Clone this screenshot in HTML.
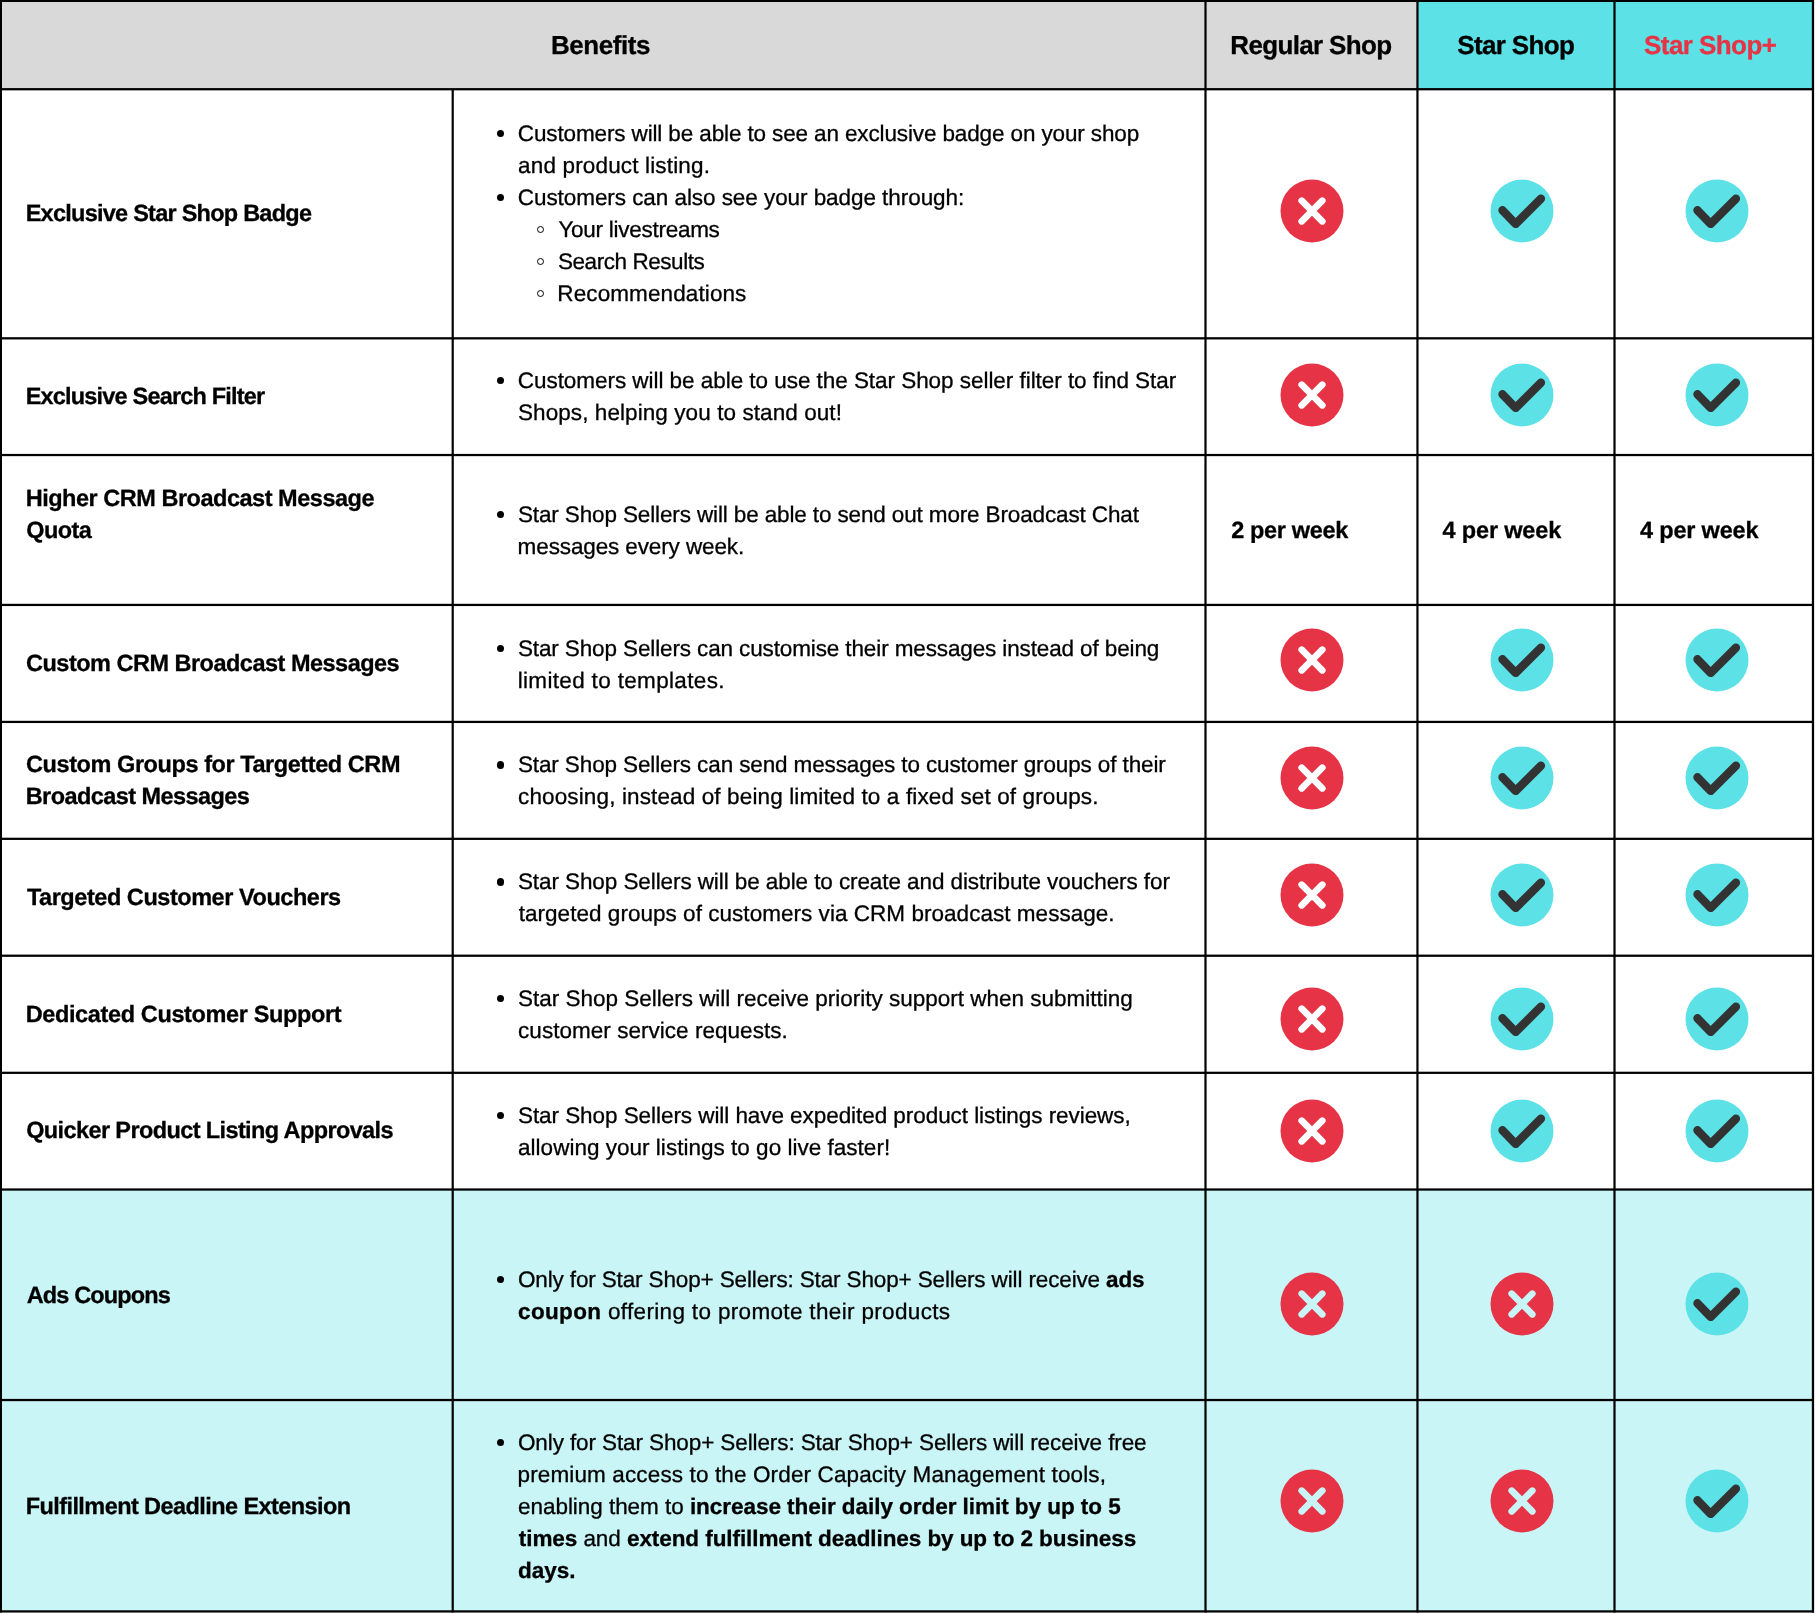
<!DOCTYPE html>
<html lang="en">
<head>
<meta charset="utf-8">
<title>Star Shop Benefits</title>
<style>
html,body{margin:0;padding:0;background:#fff;}
body{width:1815px;height:1613px;position:relative;overflow:hidden;font-family:"Liberation Sans",sans-serif;color:#000;}
.t{position:absolute;white-space:nowrap;line-height:1;font-weight:400;-webkit-text-stroke:0.3px currentColor;}
#tx{position:absolute;left:0;top:0;width:1815px;height:1613px;will-change:transform;text-rendering:geometricPrecision;}
.t b,.t.b{font-weight:700;}
.dot{position:absolute;border-radius:50%;background:#000;width:7.4px;height:7.4px;}
.ring{position:absolute;border-radius:50%;border:1.3px solid #000;width:5.6px;height:5.6px;}
svg.grid{position:absolute;left:0;top:0;}
svg.ic{position:absolute;width:64px;height:64px;overflow:visible;}
</style>
</head>
<body>
<svg class="grid" width="1815" height="1613" viewBox="0 0 1815 1613">
<rect x="0" y="0" width="1417.45" height="89.2" fill="#d9d9d9"/>
<rect x="1417.45" y="0" width="395.55" height="89.2" fill="#5ce1e6"/>
<rect x="0" y="1189.5" width="1813" height="421.90" fill="#c9f5f6"/>
</svg>
<svg class="grid" width="1815" height="1613" viewBox="0 0 1815 1613">
<rect x="0" y="0.00" width="1814.1" height="2.0"/>
<rect x="0" y="88.10" width="1814.1" height="2.25"/>
<rect x="0" y="337.20" width="1814.1" height="2.25"/>
<rect x="0" y="453.90" width="1814.1" height="2.25"/>
<rect x="0" y="603.80" width="1814.1" height="2.25"/>
<rect x="0" y="720.80" width="1814.1" height="2.25"/>
<rect x="0" y="837.70" width="1814.1" height="2.25"/>
<rect x="0" y="954.60" width="1814.1" height="2.25"/>
<rect x="0" y="1071.70" width="1814.1" height="2.25"/>
<rect x="0" y="1188.40" width="1814.1" height="2.25"/>
<rect x="0" y="1398.90" width="1814.1" height="2.25"/>
<rect x="0" y="1610.30" width="1814.1" height="2.25"/>
<rect x="0.00" y="0" width="2.0" height="1612.50"/>
<rect x="451.60" y="89.2" width="2.2" height="1523.30"/>
<rect x="1204.40" y="0" width="2.2" height="1612.50"/>
<rect x="1416.35" y="0" width="2.2" height="1612.50"/>
<rect x="1613.40" y="0" width="2.2" height="1612.50"/>
<rect x="1811.85" y="0" width="2.25" height="1612.50"/>
<rect x="1814" y="0" width="1" height="1613" fill="#e2e2e2"/>
</svg>
<div id="tx">
<div id="h1" class="t b" style="left:550.98px;top:32.00px;font-size:26px;letter-spacing:-0.434px;">Benefits</div>
<div id="h2" class="t b" style="left:1230.33px;top:32.00px;font-size:26px;letter-spacing:-0.661px;">Regular Shop</div>
<div id="h3" class="t b" style="left:1457.25px;top:32.00px;font-size:26px;letter-spacing:-0.660px;">Star Shop</div>
<div id="h4" class="t b" style="left:1644.03px;top:32.00px;font-size:26px;letter-spacing:-0.560px;color:#e63346;">Star Shop+</div>
<div id="a1" class="t b" style="left:25.69px;top:202.00px;font-size:23.5px;letter-spacing:-0.751px;">Exclusive Star Shop Badge</div>
<div id="a2" class="t b" style="left:25.69px;top:385.00px;font-size:23.5px;letter-spacing:-0.808px;">Exclusive Search Filter</div>
<div id="a3a" class="t b" style="left:25.69px;top:487.00px;font-size:23.5px;letter-spacing:-0.478px;">Higher CRM Broadcast Message</div>
<div id="a3b" class="t b" style="left:26.21px;top:519.00px;font-size:23.5px;letter-spacing:-0.547px;">Quota</div>
<div id="a4" class="t b" style="left:26.07px;top:652.00px;font-size:23.5px;letter-spacing:-0.509px;">Custom CRM Broadcast Messages</div>
<div id="a5a" class="t b" style="left:26.07px;top:753.00px;font-size:23.5px;letter-spacing:-0.430px;">Custom Groups for Targetted CRM</div>
<div id="a5b" class="t b" style="left:25.69px;top:785.00px;font-size:23.5px;letter-spacing:-0.564px;">Broadcast Messages</div>
<div id="a6" class="t b" style="left:26.92px;top:886.00px;font-size:23.5px;letter-spacing:-0.453px;">Targeted Customer Vouchers</div>
<div id="a7" class="t b" style="left:25.69px;top:1003.00px;font-size:23.5px;letter-spacing:-0.373px;">Dedicated Customer Support</div>
<div id="a8" class="t b" style="left:26.21px;top:1119.00px;font-size:23.5px;letter-spacing:-0.612px;">Quicker Product Listing Approvals</div>
<div id="a9" class="t b" style="left:26.65px;top:1284.00px;font-size:23.5px;letter-spacing:-0.847px;">Ads Coupons</div>
<div id="a10" class="t b" style="left:25.68px;top:1495.00px;font-size:23.5px;letter-spacing:-0.573px;">Fulfillment Deadline Extension</div>
<div id="b1a" class="t" style="left:517.77px;top:123.00px;font-size:22.5px;letter-spacing:-0.128px;">Customers will be able to see an exclusive badge on your shop</div>
<div id="b1b" class="t" style="left:518.06px;top:155.00px;font-size:22.5px;letter-spacing:0.159px;">and product listing.</div>
<div id="b1c" class="t" style="left:517.77px;top:187.00px;font-size:22.5px;letter-spacing:-0.062px;">Customers can also see your badge through:</div>
<div id="b1d" class="t" style="left:558.41px;top:219.00px;font-size:22.5px;letter-spacing:-0.269px;">Your livestreams</div>
<div id="b1e" class="t" style="left:557.96px;top:251.00px;font-size:22.5px;letter-spacing:-0.439px;">Search Results</div>
<div id="b1f" class="t" style="left:557.32px;top:283.00px;font-size:22.5px;letter-spacing:0.104px;">Recommendations</div>
<div id="b2a" class="t" style="left:517.77px;top:370.00px;font-size:22.5px;letter-spacing:-0.045px;">Customers will be able to use the Star Shop seller filter to find Star</div>
<div id="b2b" class="t" style="left:517.96px;top:402.00px;font-size:22.5px;letter-spacing:0.081px;">Shops, helping you to stand out!</div>
<div id="b3a" class="t" style="left:517.96px;top:504.00px;font-size:22.5px;letter-spacing:-0.132px;">Star Shop Sellers will be able to send out more Broadcast Chat</div>
<div id="b3b" class="t" style="left:517.62px;top:536.00px;font-size:22.5px;letter-spacing:-0.120px;">messages every week.</div>
<div id="b4a" class="t" style="left:517.96px;top:638.00px;font-size:22.5px;letter-spacing:-0.125px;">Star Shop Sellers can customise their messages instead of being</div>
<div id="b4b" class="t" style="left:517.65px;top:670.00px;font-size:22.5px;letter-spacing:0.338px;">limited to templates.</div>
<div id="b5a" class="t" style="left:517.96px;top:754.00px;font-size:22.5px;letter-spacing:-0.121px;">Star Shop Sellers can send messages to customer groups of their</div>
<div id="b5b" class="t" style="left:518.07px;top:786.00px;font-size:22.5px;letter-spacing:0.127px;">choosing, instead of being limited to a fixed set of groups.</div>
<div id="b6a" class="t" style="left:517.96px;top:871.00px;font-size:22.5px;letter-spacing:-0.088px;">Star Shop Sellers will be able to create and distribute vouchers for</div>
<div id="b6b" class="t" style="left:518.71px;top:903.00px;font-size:22.5px;letter-spacing:0.035px;">targeted groups of customers via CRM broadcast message.</div>
<div id="b7a" class="t" style="left:517.96px;top:988.00px;font-size:22.5px;letter-spacing:-0.009px;">Star Shop Sellers will receive priority support when submitting</div>
<div id="b7b" class="t" style="left:518.07px;top:1020.00px;font-size:22.5px;letter-spacing:0.033px;">customer service requests.</div>
<div id="b8a" class="t" style="left:517.96px;top:1105.00px;font-size:22.5px;letter-spacing:-0.061px;">Star Shop Sellers will have expedited product listings reviews,</div>
<div id="b8b" class="t" style="left:518.06px;top:1137.00px;font-size:22.5px;letter-spacing:0.017px;">allowing your listings to go live faster!</div>
<div id="b9a" class="t" style="left:517.95px;top:1269.00px;font-size:22.5px;letter-spacing:-0.137px;">Only for Star Shop+ Sellers: Star Shop+ Sellers will receive <b>ads</b></div>
<div id="b9b" class="t" style="left:518.11px;top:1301.00px;font-size:22.5px;letter-spacing:0.336px;"><b>coupon</b> offering to promote their products</div>
<div id="b10a" class="t" style="left:517.95px;top:1432.00px;font-size:22.5px;letter-spacing:-0.103px;">Only for Star Shop+ Sellers: Star Shop+ Sellers will receive free</div>
<div id="b10b" class="t" style="left:517.53px;top:1464.00px;font-size:22.5px;letter-spacing:0.131px;">premium access to the Order Capacity Management tools,</div>
<div id="b10c" class="t" style="left:518.00px;top:1496.00px;font-size:22.5px;letter-spacing:-0.043px;">enabling them to <b>increase their daily order limit by up to 5</b></div>
<div id="b10d" class="t" style="left:518.83px;top:1528.00px;font-size:22.5px;letter-spacing:-0.072px;"><b>times</b> and <b>extend fulfillment deadlines by up to 2 business</b></div>
<div id="b10e" class="t b" style="left:518.11px;top:1560.00px;font-size:22.5px;letter-spacing:-0.031px;">days.</div>
<div id="q1" class="t b" style="left:1231.14px;top:519.00px;font-size:23.5px;letter-spacing:-0.327px;">2 per week</div>
<div id="q2" class="t b" style="left:1442.57px;top:519.00px;font-size:23.5px;letter-spacing:-0.169px;">4 per week</div>
<div id="q3" class="t b" style="left:1640.12px;top:519.00px;font-size:23.5px;letter-spacing:-0.204px;">4 per week</div>
</div>
<div class="dot" style="left:496.90px;top:129.90px"></div>
<div class="dot" style="left:496.90px;top:193.90px"></div>
<div class="dot" style="left:496.90px;top:377.00px"></div>
<div class="dot" style="left:496.90px;top:510.90px"></div>
<div class="dot" style="left:496.90px;top:644.80px"></div>
<div class="dot" style="left:496.90px;top:761.20px"></div>
<div class="dot" style="left:496.90px;top:878.20px"></div>
<div class="dot" style="left:496.90px;top:995.10px"></div>
<div class="dot" style="left:496.90px;top:1112.00px"></div>
<div class="dot" style="left:496.90px;top:1275.80px"></div>
<div class="dot" style="left:496.90px;top:1439.00px"></div>
<div class="ring" style="left:536.50px;top:225.50px"></div>
<div class="ring" style="left:536.50px;top:257.50px"></div>
<div class="ring" style="left:536.50px;top:289.50px"></div>
<svg class="ic" style="left:1280.00px;top:178.80px" viewBox="-32 -32 64 64"><circle r="31.5" fill="#e63346"/><path d="M-10.3-10.3L10.3 10.3M10.3-10.3L-10.3 10.3" stroke="#fff" stroke-width="6.7" stroke-linecap="round" fill="none"/></svg>
<svg class="ic" style="left:1489.50px;top:178.80px" viewBox="-32 -32 64 64"><circle r="31.5" fill="#5ce1e6"/><path d="M-19.5-0.7L-6.4 12.9L18.9-12.2" stroke="#333" stroke-width="8.4" stroke-linecap="round" stroke-linejoin="round" fill="none"/></svg>
<svg class="ic" style="left:1684.60px;top:178.80px" viewBox="-32 -32 64 64"><circle r="31.5" fill="#5ce1e6"/><path d="M-19.5-0.7L-6.4 12.9L18.9-12.2" stroke="#333" stroke-width="8.4" stroke-linecap="round" stroke-linejoin="round" fill="none"/></svg>
<svg class="ic" style="left:1280.00px;top:363.40px" viewBox="-32 -32 64 64"><circle r="31.5" fill="#e63346"/><path d="M-10.3-10.3L10.3 10.3M10.3-10.3L-10.3 10.3" stroke="#fff" stroke-width="6.7" stroke-linecap="round" fill="none"/></svg>
<svg class="ic" style="left:1489.50px;top:363.40px" viewBox="-32 -32 64 64"><circle r="31.5" fill="#5ce1e6"/><path d="M-19.5-0.7L-6.4 12.9L18.9-12.2" stroke="#333" stroke-width="8.4" stroke-linecap="round" stroke-linejoin="round" fill="none"/></svg>
<svg class="ic" style="left:1684.60px;top:363.40px" viewBox="-32 -32 64 64"><circle r="31.5" fill="#5ce1e6"/><path d="M-19.5-0.7L-6.4 12.9L18.9-12.2" stroke="#333" stroke-width="8.4" stroke-linecap="round" stroke-linejoin="round" fill="none"/></svg>
<svg class="ic" style="left:1280.00px;top:628.30px" viewBox="-32 -32 64 64"><circle r="31.5" fill="#e63346"/><path d="M-10.3-10.3L10.3 10.3M10.3-10.3L-10.3 10.3" stroke="#fff" stroke-width="6.7" stroke-linecap="round" fill="none"/></svg>
<svg class="ic" style="left:1489.50px;top:628.30px" viewBox="-32 -32 64 64"><circle r="31.5" fill="#5ce1e6"/><path d="M-19.5-0.7L-6.4 12.9L18.9-12.2" stroke="#333" stroke-width="8.4" stroke-linecap="round" stroke-linejoin="round" fill="none"/></svg>
<svg class="ic" style="left:1684.60px;top:628.30px" viewBox="-32 -32 64 64"><circle r="31.5" fill="#5ce1e6"/><path d="M-19.5-0.7L-6.4 12.9L18.9-12.2" stroke="#333" stroke-width="8.4" stroke-linecap="round" stroke-linejoin="round" fill="none"/></svg>
<svg class="ic" style="left:1280.00px;top:745.70px" viewBox="-32 -32 64 64"><circle r="31.5" fill="#e63346"/><path d="M-10.3-10.3L10.3 10.3M10.3-10.3L-10.3 10.3" stroke="#fff" stroke-width="6.7" stroke-linecap="round" fill="none"/></svg>
<svg class="ic" style="left:1489.50px;top:745.70px" viewBox="-32 -32 64 64"><circle r="31.5" fill="#5ce1e6"/><path d="M-19.5-0.7L-6.4 12.9L18.9-12.2" stroke="#333" stroke-width="8.4" stroke-linecap="round" stroke-linejoin="round" fill="none"/></svg>
<svg class="ic" style="left:1684.60px;top:745.70px" viewBox="-32 -32 64 64"><circle r="31.5" fill="#5ce1e6"/><path d="M-19.5-0.7L-6.4 12.9L18.9-12.2" stroke="#333" stroke-width="8.4" stroke-linecap="round" stroke-linejoin="round" fill="none"/></svg>
<svg class="ic" style="left:1280.00px;top:863.00px" viewBox="-32 -32 64 64"><circle r="31.5" fill="#e63346"/><path d="M-10.3-10.3L10.3 10.3M10.3-10.3L-10.3 10.3" stroke="#fff" stroke-width="6.7" stroke-linecap="round" fill="none"/></svg>
<svg class="ic" style="left:1489.50px;top:863.00px" viewBox="-32 -32 64 64"><circle r="31.5" fill="#5ce1e6"/><path d="M-19.5-0.7L-6.4 12.9L18.9-12.2" stroke="#333" stroke-width="8.4" stroke-linecap="round" stroke-linejoin="round" fill="none"/></svg>
<svg class="ic" style="left:1684.60px;top:863.00px" viewBox="-32 -32 64 64"><circle r="31.5" fill="#5ce1e6"/><path d="M-19.5-0.7L-6.4 12.9L18.9-12.2" stroke="#333" stroke-width="8.4" stroke-linecap="round" stroke-linejoin="round" fill="none"/></svg>
<svg class="ic" style="left:1280.00px;top:987.15px" viewBox="-32 -32 64 64"><circle r="31.5" fill="#e63346"/><path d="M-10.3-10.3L10.3 10.3M10.3-10.3L-10.3 10.3" stroke="#fff" stroke-width="6.7" stroke-linecap="round" fill="none"/></svg>
<svg class="ic" style="left:1489.50px;top:987.15px" viewBox="-32 -32 64 64"><circle r="31.5" fill="#5ce1e6"/><path d="M-19.5-0.7L-6.4 12.9L18.9-12.2" stroke="#333" stroke-width="8.4" stroke-linecap="round" stroke-linejoin="round" fill="none"/></svg>
<svg class="ic" style="left:1684.60px;top:987.15px" viewBox="-32 -32 64 64"><circle r="31.5" fill="#5ce1e6"/><path d="M-19.5-0.7L-6.4 12.9L18.9-12.2" stroke="#333" stroke-width="8.4" stroke-linecap="round" stroke-linejoin="round" fill="none"/></svg>
<svg class="ic" style="left:1280.00px;top:1099.25px" viewBox="-32 -32 64 64"><circle r="31.5" fill="#e63346"/><path d="M-10.3-10.3L10.3 10.3M10.3-10.3L-10.3 10.3" stroke="#fff" stroke-width="6.7" stroke-linecap="round" fill="none"/></svg>
<svg class="ic" style="left:1489.50px;top:1099.25px" viewBox="-32 -32 64 64"><circle r="31.5" fill="#5ce1e6"/><path d="M-19.5-0.7L-6.4 12.9L18.9-12.2" stroke="#333" stroke-width="8.4" stroke-linecap="round" stroke-linejoin="round" fill="none"/></svg>
<svg class="ic" style="left:1684.60px;top:1099.25px" viewBox="-32 -32 64 64"><circle r="31.5" fill="#5ce1e6"/><path d="M-19.5-0.7L-6.4 12.9L18.9-12.2" stroke="#333" stroke-width="8.4" stroke-linecap="round" stroke-linejoin="round" fill="none"/></svg>
<svg class="ic" style="left:1280.00px;top:1271.55px" viewBox="-32 -32 64 64"><circle r="31.5" fill="#e63346"/><path d="M-10.3-10.3L10.3 10.3M10.3-10.3L-10.3 10.3" stroke="#c9f5f6" stroke-width="6.7" stroke-linecap="round" fill="none"/></svg>
<svg class="ic" style="left:1489.50px;top:1271.55px" viewBox="-32 -32 64 64"><circle r="31.5" fill="#e63346"/><path d="M-10.3-10.3L10.3 10.3M10.3-10.3L-10.3 10.3" stroke="#c9f5f6" stroke-width="6.7" stroke-linecap="round" fill="none"/></svg>
<svg class="ic" style="left:1684.60px;top:1271.55px" viewBox="-32 -32 64 64"><circle r="31.5" fill="#5ce1e6"/><path d="M-19.5-0.7L-6.4 12.9L18.9-12.2" stroke="#333" stroke-width="8.4" stroke-linecap="round" stroke-linejoin="round" fill="none"/></svg>
<svg class="ic" style="left:1280.00px;top:1469.30px" viewBox="-32 -32 64 64"><circle r="31.5" fill="#e63346"/><path d="M-10.3-10.3L10.3 10.3M10.3-10.3L-10.3 10.3" stroke="#c9f5f6" stroke-width="6.7" stroke-linecap="round" fill="none"/></svg>
<svg class="ic" style="left:1489.50px;top:1469.30px" viewBox="-32 -32 64 64"><circle r="31.5" fill="#e63346"/><path d="M-10.3-10.3L10.3 10.3M10.3-10.3L-10.3 10.3" stroke="#c9f5f6" stroke-width="6.7" stroke-linecap="round" fill="none"/></svg>
<svg class="ic" style="left:1684.60px;top:1469.30px" viewBox="-32 -32 64 64"><circle r="31.5" fill="#5ce1e6"/><path d="M-19.5-0.7L-6.4 12.9L18.9-12.2" stroke="#333" stroke-width="8.4" stroke-linecap="round" stroke-linejoin="round" fill="none"/></svg>
</body>
</html>
